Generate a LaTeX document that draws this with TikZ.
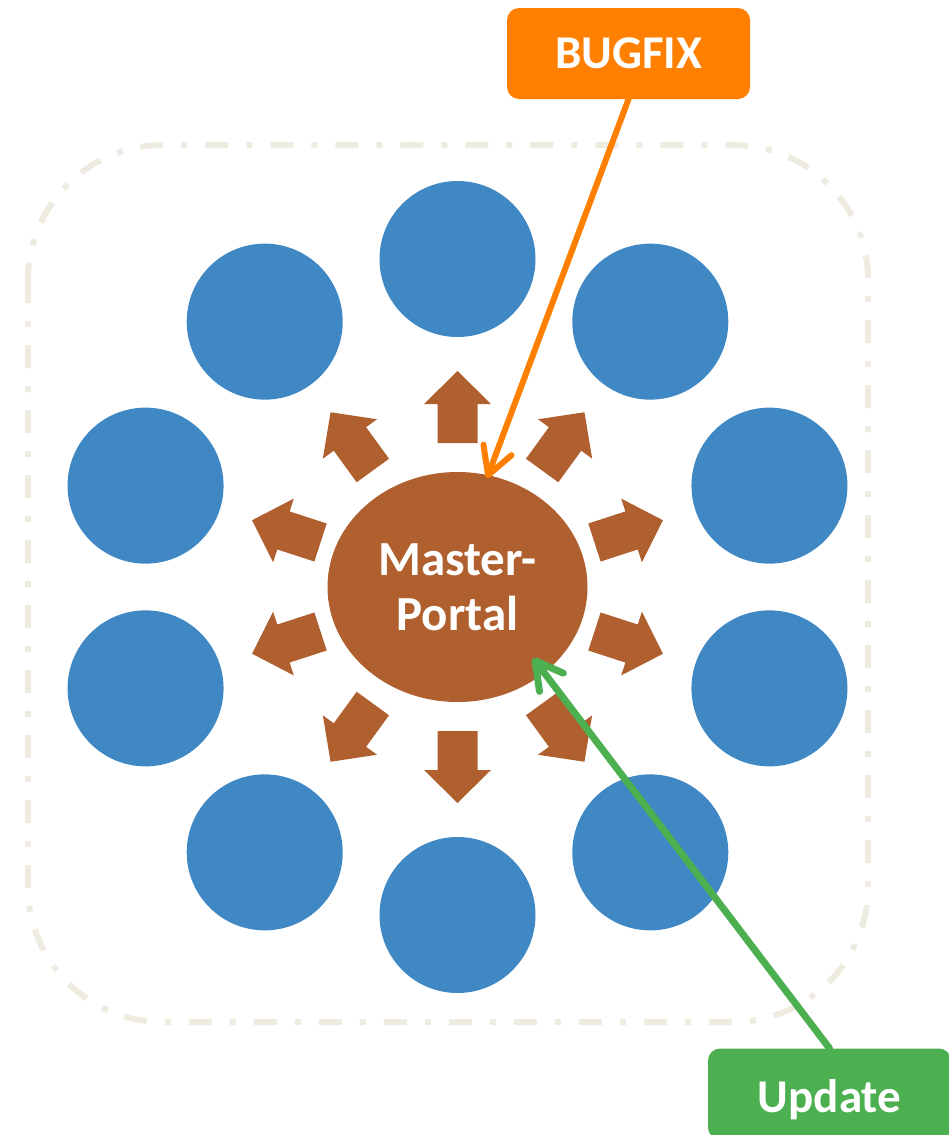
\documentclass[tikz,border=0pt]{standalone}
\usepackage{fontspec}
\setmainfont{Carlito}
\usetikzlibrary{shapes.geometric,arrows.meta}
\definecolor{nodeblue}{HTML}{3F88C4}
\definecolor{portalbrown}{HTML}{B05F2F}
\definecolor{bugorange}{HTML}{FF8000}
\definecolor{updgreen}{HTML}{4CAF50}
\definecolor{frame}{HTML}{EEEBE0}
\tikzset{
  satellite/.style={circle, fill=nodeblue, minimum size=156pt, inner sep=0pt},
  portal/.style={ellipse, fill=portalbrown, minimum width=260pt, minimum height=230pt, inner sep=0pt,
    text=white, font=\fontsize{49}{55}\selectfont\bfseries, align=center},
  labelbox/.style={rounded corners=12pt, minimum width=243pt, minimum height=91pt, inner sep=0pt,
    text=white, font=\fontsize{47}{50}\selectfont\bfseries},
  blockarrow/.style={fill=portalbrown},
  frameline/.style={draw=frame, line width=6pt, dash pattern=on 23pt off 18pt on 6pt off 18pt},
  callout/.style={line width=6pt, line cap=round, -{Straight Barb[length=27pt,width=30pt,round]}}
}
\begin{document}
\begin{tikzpicture}[x=1pt,y=-1pt]
\useasboundingbox (0,0) rectangle (949,1135);
% dashed frame
\draw[frameline, rounded corners=135pt] (28,145) rectangle (868,1022);
% satellites
\foreach \a [count=\i] in {90,126,162,198,234,270,306,342,18,54}
  \node[satellite] (c\i) at ({457.5+328*cos(\a)},{587-328*sin(\a)}) {};
% block arrows
\foreach \a in {90,126,162,198,234,270,306,342,18,54}{
  \begin{scope}[shift={(457.5,587)}, rotate=\a]
    \fill[blockarrow] (144,-20) -- (183,-20) -- (183,-33.5) -- (216,0) -- (183,33.5) -- (183,20) -- (144,20) -- cycle;
  \end{scope}
}
% master portal
\node[portal] (master) at (457.5,587) {Master-\\Portal};
% label boxes
\node[labelbox, fill=bugorange] (bugfix) at (628.5,53.5) {BUGFIX};
\node[labelbox, fill=updgreen, text depth=0pt] (update) at (829.5,1094) {\raisebox{-4pt}{Update}};
% connectors
\coordinate (bugtip) at (487,478);
\coordinate (updtip) at (533,658);
\draw[callout, draw=bugorange] (bugfix.south) -- (bugtip);
\draw[callout, draw=updgreen, line width=7pt] (update.north) -- (updtip);
\end{tikzpicture}
\end{document}
